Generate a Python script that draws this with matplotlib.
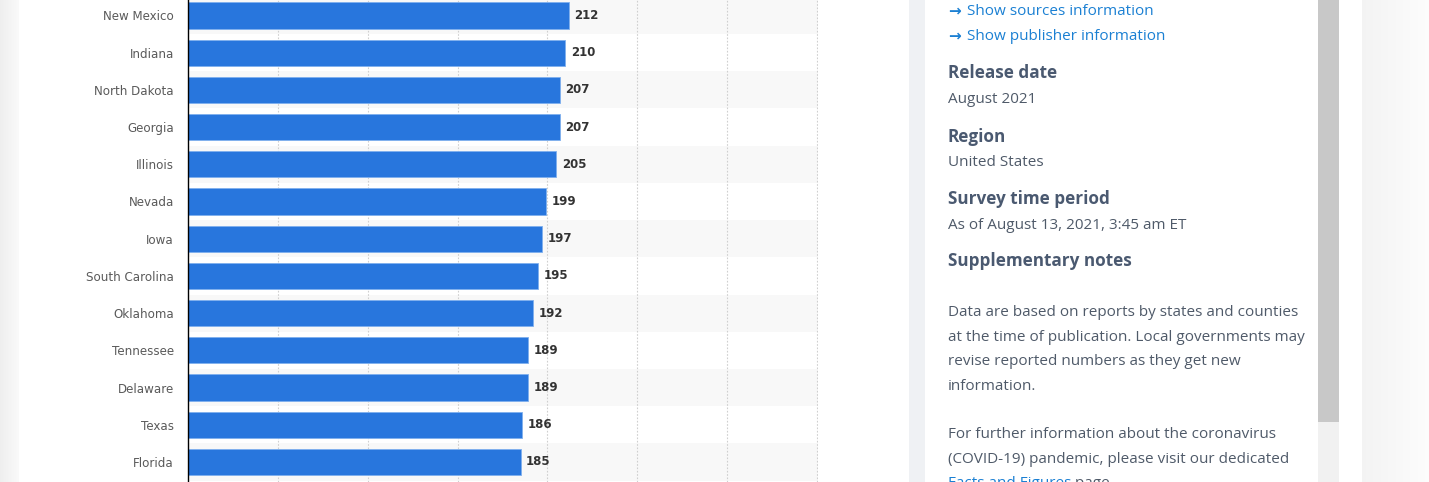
import numpy as np
import matplotlib.pyplot as plt
from matplotlib.patches import Rectangle

# data
states = ['New Mexico', 'Indiana', 'North Dakota', 'Georgia', 'Illinois', 'Nevada', 'Iowa',
          'South Carolina', 'Oklahoma', 'Tennessee', 'Delaware', 'Texas', 'Florida']
values = [212, 210, 207, 207, 205, 199, 197, 195, 192, 189, 189, 186, 185]
xticks = [0, 50, 100, 150, 200, 250, 300, 350]

W, H = 1429, 482
fig = plt.figure(figsize=(W / 100, H / 100), dpi=100, facecolor='white')

# page background in pixel coordinates
bg = fig.add_axes([0, 0, 1, 1], zorder=0)
bg.set_xlim(0, W)
bg.set_ylim(H, 0)
bg.axis('off')

def px_rect(x0, x1, y0, y1, color):
    bg.add_patch(Rectangle((x0, y0), x1 - x0, y1 - y0, color=color, lw=0, zorder=1))

# left and right page margins as soft gradients
grad = np.linspace(0, 1, 64).reshape(1, -1)
bg.imshow(np.dstack([0.935 + 0.045 * grad] * 3), extent=(0, 19, H, 0), aspect='auto', zorder=1)
bg.imshow(np.dstack([0.955 + 0.035 * grad] * 3), extent=(1362, W, H, 0), aspect='auto', zorder=1)
bg.set_xlim(0, W)
bg.set_ylim(H, 0)
px_rect(909, 925, 0, H, '#eff1f4')
# scrollbar
px_rect(1318, 1339, 0, 422, '#c8c8c8')
px_rect(1318, 1339, 422, H, '#f1f1f1')

# chart
ax = fig.add_axes([188 / W, 0, 630 / W, 1], zorder=1)
ax.set_facecolor('white')
row = 37.2
top_c = 15.5
ax.set_ylim((H - top_c) / row, -top_c / row)
ax.set_xlim(0, 350.5)

pos = np.arange(len(states))
for i in pos:
    if i % 2 == 0:
        ax.axhspan(i - 0.5, i + 0.5, color='#f8f8f8', lw=0, zorder=0)

for x in xticks[1:]:
    ax.axvline(x, color='#cfcfcf', lw=0.8, ls=(0, (1.5, 1.5)), zorder=1)

ax.barh(pos, values, height=0.7, color='#2876dd', edgecolor='#7fb0ee', linewidth=0.6, zorder=2)

for i, v in zip(pos, values):
    ax.annotate(str(v), (v, i), xytext=(4.0, 0), textcoords='offset points',
                va='center', ha='left', fontsize=8.5, fontweight='bold', color='#333333')

ax.set_yticks(pos)
ax.set_yticklabels(states, fontsize=8.6, color='#5a5a5a')
ax.tick_params(axis='y', length=0, pad=10)
ax.set_xticks([])
for s in ['top', 'right', 'bottom']:
    ax.spines[s].set_visible(False)
ax.spines['left'].set_color('black')
ax.spines['left'].set_linewidth(1.0)

# right info panel
fam = ['Open Sans', 'DejaVu Sans']
head_c = '#4a5970'
body_c = '#4f5a69'
link_c = '#1b80d3'
x0 = 948

def panel_text(y, s, color=body_c, size=11.0, weight='normal', x=x0):
    return bg.text(x, y + 1.5, s, color=color, fontsize=size, fontweight=weight,
                   family=fam, fontstretch='normal', va='center', ha='left', zorder=3)

panel_text(10, '\u2192', color=link_c, size=11, weight='bold')
panel_text(10, 'Show sources information', color=link_c, x=967)
panel_text(35, '\u2192', color=link_c, size=11, weight='bold')
panel_text(35, 'Show publisher information', color=link_c, x=967)

panel_text(72, 'Release date', color=head_c, size=12.3, weight='bold')
panel_text(98, 'August 2021')
panel_text(135, 'Region', color=head_c, size=12.3, weight='bold')
panel_text(161, 'United States')
panel_text(197, 'Survey time period', color=head_c, size=12.3, weight='bold')
panel_text(224, 'As of August 13, 2021, 3:45 am ET')
panel_text(260, 'Supplementary notes', color=head_c, size=12.3, weight='bold')

notes = ['Data are based on reports by states and counties',
         'at the time of publication. Local governments may',
         'revise reported numbers as they get new',
         'information.']
for k, line in enumerate(notes):
    panel_text(311 + 24.6 * k, line)

more = ['For further information about the coronavirus',
        '(COVID-19) pandemic, please visit our dedicated']
for k, line in enumerate(more):
    panel_text(433 + 24.6 * k, line)

link = panel_text(482, 'Facts and Figures', color=link_c)
fig.canvas.draw()
bb = link.get_window_extent()
page_x = bg.transData.inverted().transform((bb.x1, bb.y0))[0]
panel_text(482, ' page.', x=page_x)

fig.savefig('out.png', dpi=100)
